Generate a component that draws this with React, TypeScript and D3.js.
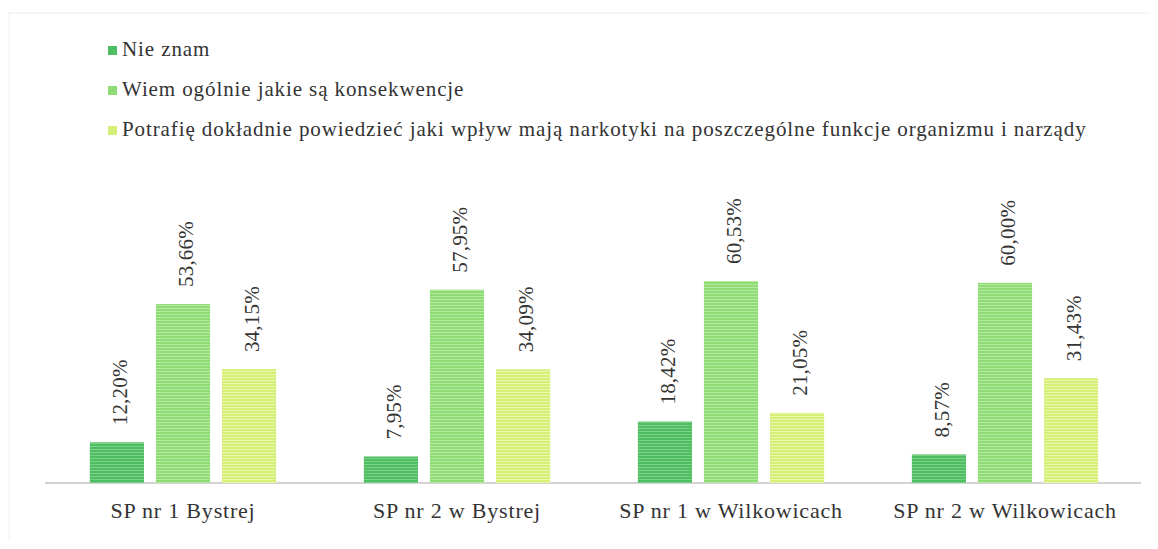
import React from "react";
import * as d3 from "d3";

const schools = ["SP nr 1 Bystrej", "SP nr 2 w Bystrej", "SP nr 1 w Wilkowicach", "SP nr 2 w Wilkowicach"];
const seriesNames = [
  "Nie znam",
  "Wiem ogólnie jakie są konsekwencje",
  "Potrafię dokładnie powiedzieć jaki wpływ mają narkotyki na poszczególne funkcje organizmu i narządy",
];
const nieZnam = [12.2, 7.95, 18.42, 8.57];
const wiemOgolnie = [53.66, 57.95, 60.53, 60.0];
const potrafie = [34.15, 34.09, 21.05, 31.43];
const colors = ["#4fbe62", "#8fdb75", "#d6ef78"];
const stripeColors = ["#7bd188", "#b4e9a0", "#e8f7a8"];

const W = 1158;
const H = 549;
const FONT = "'Liberation Serif'";
const txt = { fontFamily: FONT };

export default function App() {
  const series = [nieZnam, wiemOgolnie, potrafie];
  const baseY = 483;

  const x0 = d3.scaleBand<string>().domain(schools).range([46, 1142]).paddingInner(0.32).paddingOuter(0.16);
  const x1 = d3.scaleBand<number>().domain([0, 1, 2]).range([0, x0.bandwidth()]).paddingInner(0.18);
  const y = d3.scaleLinear().domain([0, 100]).range([baseY, baseY - 333.6]);
  const fmt = (v: number) => v.toFixed(2).replace(".", ",") + "%";

  return (
    <svg width={W} height={H} style={{ display: "block", margin: "-8px", background: "#fff" }}>
      <defs>
        {colors.map((c, i) => (
          <pattern key={i} id={"st" + i} width={4} height={3} patternUnits="userSpaceOnUse">
            <rect width={4} height={3} fill={c} />
            <rect y={2} width={4} height={1} fill={stripeColors[i]} />
          </pattern>
        ))}
      </defs>
      <line x1={0} x2={W} y1={13} y2={13} stroke="#eee" />
      <line x1={9} x2={9} y1={13} y2={H} stroke="#f0f0f0" />

      {seriesNames.map((name, i) => (
        <g key={name} transform={`translate(108, ${56 + i * 40})`}>
          <rect x={0} y={-10} width={9} height={9} fill={colors[i]} />
          <text x={14} y={0} fontFamily={FONT} fontSize={21} letterSpacing={0.9} fill="#333" style={txt}>
            {name}
          </text>
        </g>
      ))}

      <line x1={45} x2={1141} y1={baseY} y2={baseY} stroke="#a8a8a8" strokeWidth={1.2} />

      {schools.map((s, si) => (
        <g key={s} transform={`translate(${x0(s)}, 0)`}>
          {series.map((vals, k) => {
            const v = vals[si];
            const bx = x1(k)!;
            const top = y(v);
            const cx = bx + x1.bandwidth() / 2;
            return (
              <g key={k}>
                <rect x={bx} y={top} width={x1.bandwidth()} height={baseY - top} fill={`url(#st${k})`} />
                <text
                  transform={`translate(${cx + 10}, ${top - 17}) rotate(-90)`}
                  fontFamily={FONT}
                  fontSize={21}
                  letterSpacing={0.2}
                  fill="#333"
                  style={txt}
                >
                  {fmt(v)}
                </text>
              </g>
            );
          })}
          <text
            x={x0.bandwidth() / 2}
            y={518}
            textAnchor="middle"
            fontFamily={FONT}
            fontSize={22}
            letterSpacing={0.8}
            fill="#333"
            style={txt}
          >
            {s}
          </text>
        </g>
      ))}
    </svg>
  );
}
